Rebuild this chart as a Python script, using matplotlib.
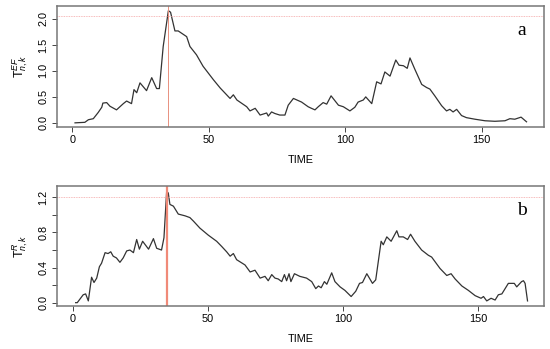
import matplotlib
matplotlib.use("Agg")
import matplotlib.pyplot as plt

# ---- data ----
time_a = [1, 4.6, 5.9, 7.7, 9.5, 10.8, 11.2, 12.6, 13.8, 16.2, 18.7, 19.9, 21.7, 22.6, 23.6,
          24.8, 27.2, 29.1, 30.9, 31.9, 33.3, 35.2, 36, 37.6, 38.8, 41.9, 43.1, 45.5, 47.9, 51.7,
          54.2, 57.8, 59, 60.3, 63.9, 65.1, 67, 68.8, 71.2, 71.8, 73, 74.2, 76, 77.9, 79.1,
          81, 84, 86.4, 87.6, 88.9, 90.1, 91.9, 93.2, 94.8, 97.5, 99.3, 101.7, 103.5, 104.7, 106.6,
          107.5, 109.7, 111.5, 113.1, 114.5, 116.4, 118.5, 119.7, 121.3, 122.7, 123.7, 125.5, 128, 129.8, 131,
          132.8, 135.3, 137.1, 138.3, 139.5, 140.8, 142.6, 144.4, 147.5, 151.2, 154.8, 158.5, 160.3, 162.1, 164.4,
          166.4]
val_a = [0.0, 0.01, 0.06, 0.08, 0.2, 0.3, 0.38, 0.39, 0.32, 0.25, 0.37, 0.42, 0.37, 0.64, 0.58,
         0.77, 0.62, 0.87, 0.66, 0.66, 1.47, 2.16, 2.13, 1.77, 1.77, 1.66, 1.47, 1.31, 1.09, 0.83,
         0.67, 0.47, 0.54, 0.44, 0.31, 0.23, 0.28, 0.15, 0.19, 0.13, 0.21, 0.18, 0.15, 0.15, 0.34,
         0.47, 0.4, 0.31, 0.28, 0.25, 0.31, 0.39, 0.36, 0.52, 0.34, 0.31, 0.23, 0.30, 0.40, 0.44,
         0.5, 0.37, 0.79, 0.75, 0.98, 0.9, 1.21, 1.11, 1.1, 1.05, 1.25, 1.03, 0.74, 0.68, 0.65,
         0.52, 0.33, 0.23, 0.26, 0.21, 0.26, 0.14, 0.1, 0.07, 0.04, 0.03, 0.04, 0.08, 0.07, 0.11,
         0.02]

time_b = [1, 1.6, 3.8, 4.7, 5.7, 6.9, 7.8, 8.8, 9.8, 10.6, 11.9, 13, 14, 14.9, 16.1,
          17.4, 18.6, 19.9, 21.1, 22.4, 23.6, 24.6, 25.8, 28, 29.8, 31, 32.8, 33.7, 34.7, 35.3,
          35.9, 37.2, 39, 41.5, 43.3, 44.6, 47, 50.1, 53.2, 55.1, 56.9, 58.2, 59.4, 60.6, 63.7,
          65.6, 67.4, 69.3, 71.1, 72.3, 73.6, 74.8, 76, 77.3, 78.3, 79.1, 80, 80.7, 82, 84,
          86.5, 88.4, 89.9, 90.9, 91.9, 93.1, 94, 95.8, 97, 98.9, 100.7, 103, 104.7, 106.1, 107.2,
          108.8, 110.9, 112.1, 114.1, 114.9, 116.2, 117.8, 119.9, 120.7, 122.3, 123.9, 125, 126.6, 129.1, 131.6,
          132.8, 135.9, 138.4, 140, 141.5, 144, 146.4, 148.9, 151.1, 152, 153.2, 154.8, 156.3, 157.5, 158.8,
          161.2, 163.4, 164.3, 166.1, 166.8, 167.4, 168.3]
val_b = [0, 0, 0.09, 0.1, 0.02, 0.29, 0.23, 0.28, 0.41, 0.45, 0.57, 0.56, 0.58, 0.53, 0.51,
         0.46, 0.51, 0.59, 0.6, 0.57, 0.72, 0.61, 0.70, 0.61, 0.73, 0.62, 0.60, 0.74, 1.27, 1.25,
         1.12, 1.1, 1.01, 0.99, 0.97, 0.93, 0.85, 0.77, 0.70, 0.64, 0.58, 0.53, 0.56, 0.49, 0.43,
         0.35, 0.37, 0.28, 0.30, 0.25, 0.32, 0.28, 0.27, 0.24, 0.32, 0.25, 0.33, 0.24, 0.33, 0.3,
         0.28, 0.24, 0.16, 0.19, 0.17, 0.24, 0.21, 0.34, 0.24, 0.18, 0.14, 0.07, 0.13, 0.22, 0.23,
         0.33, 0.22, 0.26, 0.70, 0.66, 0.75, 0.70, 0.82, 0.75, 0.75, 0.72, 0.78, 0.70, 0.60, 0.54,
         0.52, 0.39, 0.31, 0.33, 0.27, 0.19, 0.14, 0.08, 0.05, 0.07, 0.02, 0.05, 0.03, 0.09, 0.1,
         0.22, 0.22, 0.18, 0.24, 0.25, 0.22, 0.02]

threshold_a = 2.065
threshold_b = 1.205
change_a = 35
change_b = 34.7

xticks = [0, 50, 100, 150]
yticks_a = [0.0, 0.5, 1.0, 1.5, 2.0]
ylabels_a = ["0.0", "0.5", "1.0", "1.5", "2.0"]
yticks_b = [0.0, 0.2, 0.4, 0.6, 0.8, 1.0, 1.2]
ylabels_b = ["0.0", "", "0.4", "", "0.8", "", "1.2"]

plt.rcParams['font.family'] = ['Liberation Sans', 'DejaVu Sans']
plt.rcParams['mathtext.fontset'] = 'custom'
plt.rcParams['mathtext.rm'] = 'Liberation Sans'
plt.rcParams['mathtext.it'] = 'Liberation Sans:italic'

W, H = 550, 349
fig = plt.figure(figsize=(W / 100, H / 100), dpi=100)

def box(l, r, t, b):
    return [l / W, 1 - b / H, (r - l) / W, (b - t) / H]

ax_a = fig.add_axes(box(57, 544, 6, 127))
ax_b = fig.add_axes(box(57, 544, 186, 306))

def style(ax, yt, yl, ylabel, letter, ylim, xlim):
    ax.set_xlim(*xlim)
    ax.set_ylim(*ylim)
    ax.set_xticks(xticks)
    ax.set_xticklabels([str(x) for x in xticks], fontsize=7.8)
    ax.set_yticks(yt)
    ax.set_yticklabels(yl, fontsize=7.8, rotation=90, va='center')
    ax.tick_params(direction='out', length=3.6, width=0.7, color='#444444', pad=2.5)
    for s in ax.spines.values():
        s.set_color('#777777')
        s.set_linewidth(1.1)
    ax.set_xlabel('TIME', fontsize=7.8, labelpad=7)
    ax.set_ylabel(ylabel, fontsize=9, labelpad=6)
    ax.text(0.955, 0.80, letter, transform=ax.transAxes, fontsize=14,
            family='Liberation Serif', ha='center', va='center')

ax_a.plot(time_a, val_a, color='#333333', lw=0.9)
ax_a.axhline(threshold_a, color='#f4a4a4', lw=0.6, ls=(0, (1, 1)))
ax_a.axvline(change_a, color='#e8907f', lw=0.7)
style(ax_a, yticks_a, ylabels_a, r'$\mathrm{T}^{EF}_{n,k}$', 'a', (-0.08, 2.25), (-5.6, 172.8))

ax_b.plot(time_b, val_b, color='#333333', lw=0.9)
ax_b.axhline(threshold_b, color='#f4a4a4', lw=0.6, ls=(0, (1, 1)))
ax_b.axvline(change_b, color='#f08a78', lw=1.6)
style(ax_b, yticks_b, ylabels_b, r'$\mathrm{T}^{R}_{n,k}$', 'b', (-0.038, 1.33), (-5.9, 174.4))

fig.savefig('out.png', dpi=100)
